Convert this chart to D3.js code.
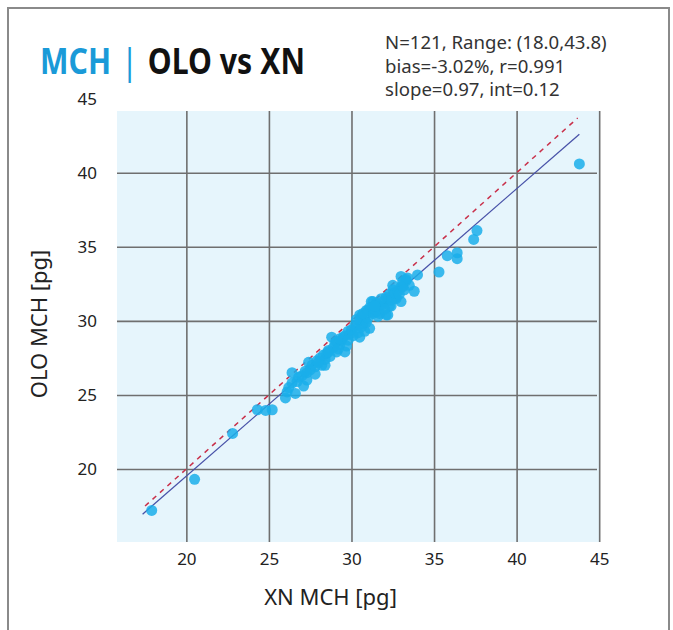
<!DOCTYPE html>
<html>
<head>
<meta charset="utf-8">
<script src="https://cdn.jsdelivr.net/npm/d3@7"></script>
<style>
	body { margin: 0; background: #fff; }
	text { font-family: "Noto Sans", "Open Sans", sans-serif; }
	.title { font-family: "Noto Sans", Roboto, sans-serif; font-weight: bold; }
</style>
</head>
<body>
<div id="Chart"></div>
<script>
// XN (x) vs OLO (y) MCH values
var xnValues = [17.9, 20.5, 22.8, 24.3, 24.8, 25.2, 26.0, 26.1, 26.6, 26.4, 26.4, 26.8, 27.1, 27.3, 27.3, 27.4, 27.8, 27.8, 28.1, 28.2,
	28.4, 28.4, 28.6, 28.7, 28.8, 29.0, 29.1, 29.3, 29.6, 29.7, 29.8, 30.3, 30.5, 30.5, 30.5, 30.6, 30.7, 30.8, 30.9, 31.0,
	31.1, 31.2, 31.2, 31.3, 31.5, 31.6, 31.7, 31.8, 32.1, 32.2, 32.2, 32.3, 32.4, 32.5, 32.7, 32.7, 33.0, 33.0, 33.0, 33.1,
	33.3, 33.3, 33.5, 33.8, 34.0, 35.3, 35.8, 36.4, 36.4, 37.4, 37.6, 43.8, 26.2, 26.7, 27.0, 27.5, 27.6, 27.9, 28.0, 28.3,
	28.5, 28.9, 29.1, 29.2, 29.4, 29.5, 29.6, 29.9, 30.0, 30.1, 30.2, 30.4, 30.6, 30.8, 30.9, 31.0, 31.1, 31.3, 31.4, 31.5,
	31.7, 31.9, 32.0, 32.1, 32.3, 32.4, 32.6, 32.8, 32.9, 33.1, 33.2, 33.4, 29.3, 28.6, 27.2, 30.3, 31.8, 32.5, 29.8, 30.7, 31.4];
var oloValues = [17.2, 19.3, 22.4, 24.0, 23.95, 24.0, 24.8, 25.2, 25.1, 25.8, 26.5, 26.2, 25.6, 26.5, 26.0, 27.2, 26.9, 26.4, 27.5, 27.0,
	27.0, 27.4, 28.0, 27.6, 28.9, 28.5, 27.9, 28.4, 27.9, 28.3, 29.3, 29.5, 28.9, 30.0, 30.4, 30.3, 29.8, 29.3, 30.7, 30.7,
	29.5, 30.6, 31.3, 31.3, 30.6, 30.3, 31.0, 31.0, 30.4, 31.5, 30.4, 31.0, 31.0, 32.1, 31.6, 31.5, 31.3, 32.3, 33.0, 32.3,
	32.8, 32.7, 32.4, 32.0, 33.1, 33.3, 34.4, 34.2, 34.6, 35.5, 36.1, 40.6, 25.5, 25.9, 26.3, 26.7, 27.0, 27.3, 27.2, 27.7,
	27.8, 28.2, 28.6, 28.1, 28.7, 28.9, 29.0, 29.1, 29.4, 29.0, 29.7, 29.2, 29.6, 30.1, 29.9, 30.2, 30.9, 30.5, 30.8, 31.2,
	30.5, 31.3, 30.8, 31.6, 31.8, 31.4, 31.9, 32.0, 31.8, 32.6, 32.1, 32.9, 28.8, 27.9, 26.6, 30.1, 31.5, 32.4, 28.7, 30.5, 31.0];

var xTicks = [20, 25, 30, 35, 40, 45];
var yTicks = [20, 25, 30, 35, 40, 45];
var statsLines = ["N=121, Range: (18.0,43.8)", "bias=-3.02%, r=0.991", "slope=0.97, int=0.12"];
var fitSlope = 0.97, fitIntercept = 0.12;
var fitRange = [17.35, 43.8];
var identityRange = [17.5, 43.7];

var width = 673, height = 630;
var plot = {left: 117, right: 600, top: 111, bottom: 542};

var svg = d3.select("#Chart")
	.append("svg")
	.attr("width", width)
	.attr("height", height);

// outer frame (bottom edge runs off the page)
svg.append("rect")
	.attr("x", 8).attr("y", 8)
	.attr("width", 661).attr("height", 660)
	.attr("fill", "none")
	.attr("stroke", "#8a8a8a")
	.attr("stroke-width", 2);

var x = d3.scaleLinear().domain([15.8, 45.05]).range([plot.left, plot.right]);
var y = d3.scaleLinear().domain([15.07, 44.17]).range([plot.bottom, plot.top]);

svg.append("rect")
	.attr("x", plot.left).attr("y", plot.top)
	.attr("width", plot.right - plot.left)
	.attr("height", plot.bottom - plot.top)
	.attr("fill", "#e6f5fc");

var yAxis = svg.append("g")
	.attr("transform", "translate(" + plot.left + ",0)")
	.call(d3.axisLeft(y).tickValues(yTicks).tickSize(-(plot.right - plot.left - 3)).tickPadding(20));
var xAxis = svg.append("g")
	.attr("transform", "translate(0," + plot.bottom + ")")
	.call(d3.axisBottom(x).tickValues(xTicks).tickSize(-(plot.bottom - plot.top)).tickPadding(11));

[xAxis, yAxis].forEach(function (g) {
	g.select(".domain").remove();
	g.selectAll(".tick line").attr("stroke", "#6f6f6f").attr("stroke-width", 1.6);
	g.selectAll(".tick text")
		.attr("fill", "#222")
		.style("font-size", "17px")
		.style("font-family", "'Noto Sans', sans-serif");
});
// 45 sits above the shaded area: keep its label, drop its grid line
yAxis.selectAll(".tick").filter(function (d) { return y(d) < plot.top; }).select("line").remove();

// identity line
svg.append("line")
	.attr("x1", x(identityRange[0])).attr("y1", y(identityRange[0]))
	.attr("x2", x(identityRange[1])).attr("y2", y(identityRange[1]))
	.attr("stroke", "#c9304a")
	.attr("stroke-width", 1.5)
	.attr("stroke-dasharray", "5,5");

// regression line
svg.append("line")
	.attr("x1", x(fitRange[0])).attr("y1", y(fitSlope * fitRange[0] + fitIntercept))
	.attr("x2", x(fitRange[1])).attr("y2", y(fitSlope * fitRange[1] + fitIntercept))
	.attr("stroke", "#4852a8")
	.attr("stroke-width", 1.3);

svg.append("g")
	.selectAll("circle")
	.data(xnValues)
	.enter()
	.append("circle")
	.attr("cx", function (d) { return x(d); })
	.attr("cy", function (d, i) { return y(oloValues[i]); })
	.attr("r", 5.5)
	.attr("fill", "#1aaeea")
	.attr("fill-opacity", 0.85);

// title, squeezed to look like the condensed face of the original
var title = svg.append("text")
	.attr("class", "title")
	.attr("transform", "translate(40,74) scale(0.84,1)")
	.style("font-size", "36px");
title.append("tspan").attr("fill", "#1a9ad8").text("MCH");
title.append("tspan").attr("fill", "#1a9ad8").attr("font-weight", "normal").attr("dx", 12).text("|");
title.append("tspan").attr("fill", "#111").attr("dx", 12).text("OLO vs XN");

svg.append("g")
	.selectAll("text")
	.data(statsLines)
	.enter()
	.append("text")
	.attr("x", 385)
	.attr("y", function (d, i) { return 49 + i * 23.5; })
	.attr("fill", "#333")
	.style("font-size", "18.6px")
	.text(function (d) { return d; });

svg.append("text")
	.attr("x", (plot.left + plot.right) / 2 - 28)
	.attr("y", 605)
	.attr("text-anchor", "middle")
	.attr("fill", "#222")
	.style("font-size", "22px")
	.text("XN MCH [pg]");

svg.append("text")
	.attr("transform", "translate(47," + 324 + ") rotate(-90)")
	.attr("text-anchor", "middle")
	.attr("fill", "#222")
	.style("font-size", "22px")
	.text("OLO MCH [pg]");
</script>
</body>
</html>
